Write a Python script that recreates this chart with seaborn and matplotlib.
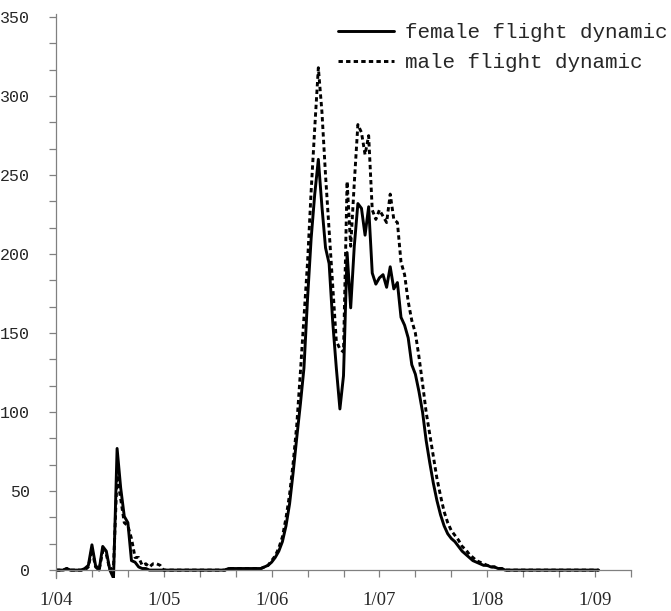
import numpy as np
import pandas as pd
import matplotlib
matplotlib.use("Agg")
import matplotlib.pyplot as plt
from matplotlib.ticker import MultipleLocator, FixedLocator, FixedFormatter
import seaborn as sns

# ---- data (daily counts, day 0 = 1 April) ----
female = [
    0, 0, 0, 1, 0, 0, 0, 0, 1, 3,
    16, 3, 0, 15, 12, 0, -5, 77, 52, 34,
    30, 6, 5, 2, 1, 1, 0, 0, 0, 0,
    0, 0, 0, 0, 0, 0, 0, 0, 0, 0,
    0, 0, 0, 0, 0, 0, 0, 0, 1, 1,
    1, 1, 1, 1, 1, 1, 1, 1, 2, 3,
    5, 8, 12, 18, 28, 42, 62, 84, 105, 128,
    172, 210, 238, 260, 230, 204, 194, 157, 128, 102,
    123, 201, 166, 205, 232, 229, 212, 230, 188, 181,
    185, 187, 179, 192, 178, 182, 160, 155, 147, 130,
    124, 113, 100, 82, 68, 55, 44, 35, 28, 23,
    20, 18, 15, 12, 10, 8, 6, 5, 4, 3,
    3, 2, 2, 1, 1, 0, 0, 0, 0, 0,
    0, 0, 0, 0, 0, 0, 0, 0, 0, 0,
    0, 0, 0, 0, 0, 0, 0, 0, 0, 0,
    0, 0,
]
male = [
    0, 0, 0, 1, 0, 0, 0, 0, 0, 2,
    13, 2, 0, 12, 10, 0, 2, 60, 45, 30,
    28, 20, 8, 8, 3, 4, 2, 4, 4, 3,
    0, 0, 0, 0, 0, 0, 0, 0, 0, 0,
    0, 0, 0, 0, 0, 0, 0, 0, 1, 1,
    1, 1, 1, 1, 1, 1, 1, 1, 2, 3,
    6, 9, 14, 21, 33, 48, 68, 92, 125, 160,
    195, 240, 280, 318, 290, 250, 215, 180, 145, 140,
    138, 246, 205, 245, 282, 277, 263, 275, 228, 222,
    228, 224, 220, 238, 222, 220, 195, 187, 170, 158,
    150, 135, 118, 100, 86, 72, 58, 47, 37, 30,
    25, 22, 19, 15, 13, 10, 8, 6, 5, 4,
    3, 2, 2, 1, 1, 0, 0, 0, 0, 0,
    0, 0, 0, 0, 0, 0, 0, 0, 0, 0,
    0, 0, 0, 0, 0, 0, 0, 0, 0, 0,
    0, 0,
]
days = list(range(len(female)))
month_ticks = [0, 30, 60, 90, 120, 150]
month_labels = ["1/04", "1/05", "1/06", "1/07", "1/08", "1/09"]
series_names = ["female flight dynamic", "male flight dynamic"]

sns.set_style("ticks")
plt.rcParams["font.family"] = ["Liberation Mono", "DejaVu Sans"]

fig = plt.figure(figsize=(6.71, 6.11), dpi=100)
ax = fig.add_axes([56 / 671, 33 / 611, 575 / 671, 564 / 611])

sns.lineplot(x=days, y=female, ax=ax, color="black", lw=2.1,
             label=series_names[0], legend=False)
sns.lineplot(x=days, y=male, ax=ax, color="black", lw=2.1,
             linestyle=(0, (1.5, 1.1)), label=series_names[1], legend=False)

ax.set_xlim(0, 160)
ax.set_ylim(-5, 352)

for s in ["top", "right"]:
    ax.spines[s].set_visible(False)
ax.spines["bottom"].set_position(("data", 0))
for s in ["bottom", "left"]:
    ax.spines[s].set_color("#808080")
    ax.spines[s].set_linewidth(0.9)

ax.xaxis.set_major_locator(FixedLocator(list(range(0, 161, 10))))
xl = []
for t in range(0, 161, 10):
    xl.append(month_labels[month_ticks.index(t)] if t in month_ticks else "")
ax.xaxis.set_major_formatter(FixedFormatter(xl))
ax.yaxis.set_major_locator(MultipleLocator(50))
ax.yaxis.set_minor_locator(MultipleLocator(50 / 3))

ax.tick_params(axis="x", which="major", direction="out", length=5,
               width=0.9, color="#808080", pad=11, labelsize=13.5)
ax.tick_params(axis="y", which="both", direction="out", length=5,
               width=0.9, color="#808080", pad=14, labelsize=12)
for lab in ax.get_xticklabels():
    lab.set_fontfamily(["Liberation Serif", "DejaVu Serif"])

handles, labels = ax.get_legend_handles_labels()
fig.legend(handles, labels, loc="upper left",
           bbox_to_anchor=(338 / 671, 1 - 23 / 611), frameon=False,
           prop={"family": ["Liberation Mono", "DejaVu Sans"], "size": 15},
           handlelength=2.7, handletextpad=0.5, labelspacing=0.55,
           borderpad=0, borderaxespad=0)

ax.set_xlabel("")
ax.set_ylabel("")
fig.savefig("out.png", dpi=100)
